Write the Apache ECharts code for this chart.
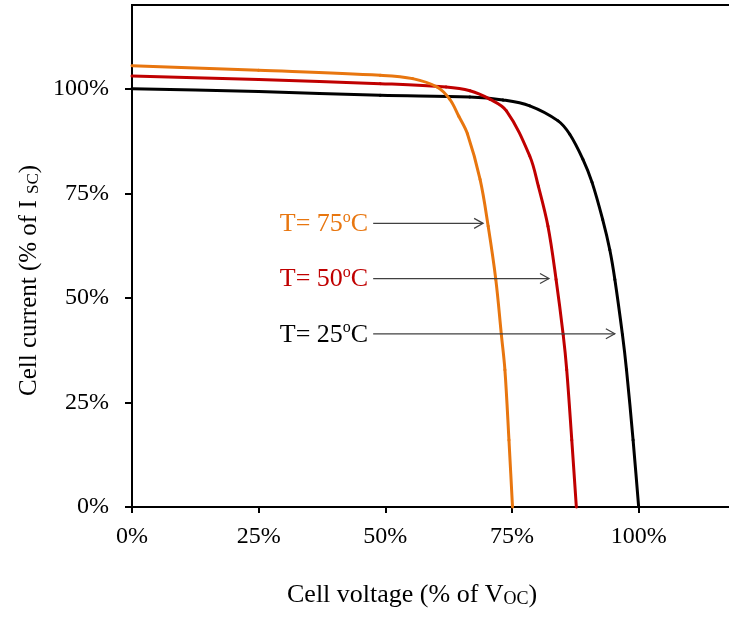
<!DOCTYPE html>
<html>
<head>
<meta charset="utf-8">
<script src="https://cdn.jsdelivr.net/npm/echarts@6/dist/echarts.min.js"></script>
<style>
  html, body { margin: 0; padding: 0; background: #fff; }
  #chart { width: 729px; height: 618px; }
</style>
</head>
<body>
<div id="chart"></div>
<script>
// I-V curves of a solar cell at three temperatures (normalised values, %)
const voltage25 = [0, 25, 49, 66.7, 73.2, 78.5, 84.1, 86.4, 89, 90.8, 92.9, 94.3, 95.3, 96.8, 97.6, 98.9, 100];
const current25 = [100, 99.3, 98.4, 98, 97.3, 95.9, 92.3, 89.1, 83.1, 77.6, 68.7, 61.5, 54.4, 41.2, 32.8, 16, 0];

const voltage50 = [0, 25, 49, 62, 66.7, 70.6, 73.9, 78.5, 80.2, 82.1, 83.7, 85.1, 85.8, 86.8, 87.7];
const current50 = [103, 102.2, 101.2, 100.4, 99.5, 97.5, 94.7, 83.9, 76.7, 67.1, 54.4, 41.2, 32.8, 16, 0];

const voltage75 = [0, 25, 49, 55.4, 60.2, 62.7, 64.5, 66.2, 68.7, 70.3, 71.8, 72.9, 73.6, 74.4, 75.1];
const current75 = [105.5, 104.4, 103.2, 102.4, 100.4, 97.5, 93.4, 89.2, 78.3, 67.1, 54.4, 41.2, 32.8, 16, 0];

const xTicks = [0, 25, 50, 75, 100];
const yTicks = [0, 25, 50, 75, 100];

// Temperature labels: [label temperature, y level, arrow start x, arrow end x]
const annoTemp  = ['75', '50', '25'];
const annoY     = [67.8, 54.6, 41.4];
const annoStart = [47.6, 47.6, 47.6];
const annoEnd   = [69.3, 82.3, 95.3];
const annoColor = ['#E8760F', '#C00000', '#000000'];

const pairs = (xs, ys) => xs.map((x, i) => [x, ys[i]]);
const serif = 'Liberation Serif';

const chart = echarts.init(document.getElementById('chart'));

// Smooth curve through the projected points: tangent at each point follows
// the chord of its neighbours, handle length is a fraction of the segment.
function smoothCurve(xs, ys, color) {
  return {
    type: 'custom', z: 3,
    data: pairs(xs, ys),
    renderItem: (params, api) => {
      if (params.dataIndex !== 0) return null;
      const pts = xs.map((x, i) => api.coord([x, ys[i]]));
      const n = pts.length;
      const tangent = i => {
        const a = pts[Math.max(i - 1, 0)], b = pts[Math.min(i + 1, n - 1)];
        const dx = b[0] - a[0], dy = b[1] - a[1];
        const len = Math.hypot(dx, dy) || 1;
        return [dx / len, dy / len];
      };
      const k = 0.36;
      const children = [];
      for (let i = 0; i < n - 1; i++) {
        const p = pts[i], q = pts[i + 1];
        const d = Math.hypot(q[0] - p[0], q[1] - p[1]) * k;
        const t0 = tangent(i), t1 = tangent(i + 1);
        children.push({
          type: 'bezierCurve',
          shape: {
            x1: p[0], y1: p[1], x2: q[0], y2: q[1],
            cpx1: p[0] + t0[0] * d, cpy1: p[1] + t0[1] * d,
            cpx2: q[0] - t1[0] * d, cpy2: q[1] - t1[1] * d
          },
          style: { stroke: color, lineWidth: 3, fill: null, lineCap: 'round' }
        });
      }
      return { type: 'group', children };
    }
  };
}

const titleRich = size => ({
  n: { fontFamily: serif, fontSize: size, fill: '#000', verticalAlign: 'bottom', lineHeight: size + 5 },
  s: { fontFamily: serif, fontSize: Math.round(size * 0.68), fill: '#000', verticalAlign: 'bottom', lineHeight: 14 }
});

chart.setOption({
  animation: false,
  grid: { left: 132, top: 5, width: 608, bottom: 111, show: true,
          outerBoundsMode: 'none', containLabel: false,
          borderColor: '#000', borderWidth: 2, backgroundColor: 'transparent' },
  xAxis: {
    type: 'value', min: 0, max: 120, interval: 25,
    axisLine: { show: true, lineStyle: { color: '#000', width: 2 } },
    axisTick: { show: true, length: 6, lineStyle: { color: '#000', width: 2 },
                customValues: xTicks },
    axisLabel: { color: '#000', fontFamily: serif, fontSize: 24, margin: 18,
                 customValues: xTicks, formatter: v => v + '%' },
    splitLine: { show: false }
  },
  yAxis: {
    type: 'value', min: 0, max: 120, interval: 25,
    axisLine: { show: true, lineStyle: { color: '#000', width: 2 } },
    axisTick: { show: true, length: 7, lineStyle: { color: '#000', width: 2 },
                customValues: yTicks },
    axisLabel: { color: '#000', fontFamily: serif, fontSize: 24, margin: 23,
                 customValues: yTicks, formatter: v => v + '%' },
    splitLine: { show: false }
  },
  graphic: [
    {
      type: 'text', left: 287, top: 582,
      style: { text: '{n|Cell voltage (% of V}{s|OC}{n|)}', rich: titleRich(26) }
    },
    {
      type: 'text', x: 12, y: 396, rotation: Math.PI / 2,
      style: { text: '{n|Cell current (% of I }{s|SC}{n|)}', rich: titleRich(25) }
    }
  ],
  series: [
    smoothCurve(voltage25, current25, '#000000'),
    smoothCurve(voltage50, current50, '#C00000'),
    smoothCurve(voltage75, current75, '#E8760F'),
    {
      type: 'custom', z: 5,
      data: annoTemp.map((t, i) => [annoStart[i], annoY[i], annoEnd[i], i]),
      renderItem: (params, api) => {
        const i = api.value(3);
        const p0 = api.coord([api.value(0), api.value(1)]);
        const p1 = api.coord([api.value(2), api.value(1)]);
        const color = annoColor[i];
        return {
          type: 'group',
          children: [
            {
              type: 'text', x: p0[0] - 5, y: p0[1],
              style: {
                text: '{n|T= ' + annoTemp[i] + '}{o|o}{n|C}',
                align: 'right', verticalAlign: 'middle',
                rich: {
                  n: { fontFamily: serif, fontSize: 26, fill: color, lineHeight: 28, verticalAlign: 'bottom' },
                  o: { fontFamily: serif, fontSize: 16, fill: color, lineHeight: 18, verticalAlign: 'top' }
                }
              }
            },
            { type: 'line', shape: { x1: p0[0], y1: p0[1], x2: p1[0], y2: p1[1] },
              style: { stroke: '#404040', lineWidth: 1.2 } },
            { type: 'polyline',
              shape: { points: [[p1[0] - 9, p1[1] - 5], [p1[0], p1[1]], [p1[0] - 9, p1[1] + 5]] },
              style: { stroke: '#404040', lineWidth: 1.2, fill: 'none' } }
          ]
        };
      }
    }
  ]
});
</script>
</body>
</html>
